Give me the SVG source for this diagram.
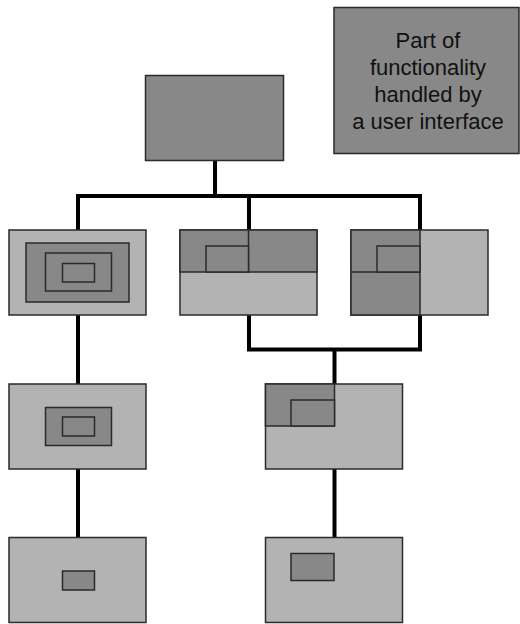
<svg xmlns="http://www.w3.org/2000/svg" width="520" height="624" viewBox="0 0 520 624">
<style>
.dk{fill:#888888;stroke:#2a2a2a;stroke-width:1.5}
.lt{fill:#b3b3b3;stroke:#2a2a2a;stroke-width:1.5}
.ln{fill:none;stroke:#2a2a2a;stroke-width:1.5}
.cn{fill:none;stroke:#000;stroke-width:4;stroke-linejoin:miter;stroke-linecap:butt}
.tx{font-family:"Liberation Sans",Arial,sans-serif;font-size:22px;fill:#111;text-anchor:middle}
</style>
<rect width="520" height="624" fill="#fff"/>
<g id="connectors">
<line class="cn" x1="215" y1="160" x2="215" y2="196"/>
<polyline class="cn" points="78,231 78,196 420,196 420,231"/>
<line class="cn" x1="249" y1="196" x2="249" y2="231"/>
<line class="cn" x1="78" y1="314" x2="78" y2="385"/>
<line class="cn" x1="78" y1="468" x2="78" y2="538"/>
<polyline class="cn" points="249,314 249,349.5 420,349.5 420,314"/>
<line class="cn" x1="334.5" y1="349.5" x2="334.5" y2="385"/>
<line class="cn" x1="334.5" y1="468" x2="334.5" y2="538"/>
</g>
<g id="legend">
<rect class="dk" x="334" y="7.5" width="185" height="146"/>
<text class="tx" x="428" y="48">Part of</text>
<text class="tx" x="428" y="75">functionality</text>
<text class="tx" x="428" y="102">handled by</text>
<text class="tx" x="428" y="129">a user interface</text>
</g>
<g id="root">
<rect class="dk" x="145.5" y="75.5" width="138" height="85"/>
</g>
<g id="nodeA">
<rect class="lt" x="9" y="230" width="137" height="85"/>
<rect class="dk" x="26" y="243" width="103" height="59"/>
<rect class="dk" x="45.5" y="253" width="66" height="38"/>
<rect class="dk" x="62.5" y="263.5" width="32" height="18.5"/>
</g>
<g id="nodeB">
<rect class="lt" x="180" y="230" width="137" height="85"/>
<rect class="dk" x="180" y="230" width="137" height="42"/>
<line class="ln" x1="248.5" y1="230" x2="248.5" y2="272"/>
<rect class="dk" x="206" y="246" width="42.5" height="26"/>
</g>
<g id="nodeC">
<rect class="lt" x="351" y="230" width="137" height="85"/>
<rect class="dk" x="351" y="230" width="69" height="85"/>
<line class="ln" x1="351" y1="272" x2="420" y2="272"/>
<rect class="dk" x="377" y="246" width="43" height="26"/>
</g>
<g id="nodeD">
<rect class="lt" x="9" y="384" width="137" height="85"/>
<rect class="dk" x="45.5" y="407.5" width="66" height="38"/>
<rect class="dk" x="62.5" y="417" width="32" height="19"/>
</g>
<g id="nodeE">
<rect class="lt" x="265.5" y="384" width="137" height="85"/>
<rect class="dk" x="265.5" y="384" width="69" height="42"/>
<rect class="dk" x="291" y="400" width="43.5" height="26"/>
</g>
<g id="nodeF">
<rect class="lt" x="9" y="537.5" width="137" height="85"/>
<rect class="dk" x="62.5" y="571" width="32" height="19"/>
</g>
<g id="nodeG">
<rect class="lt" x="265.5" y="537.5" width="137" height="85"/>
<rect class="dk" x="291" y="553.5" width="43" height="27"/>
</g>
</svg>
